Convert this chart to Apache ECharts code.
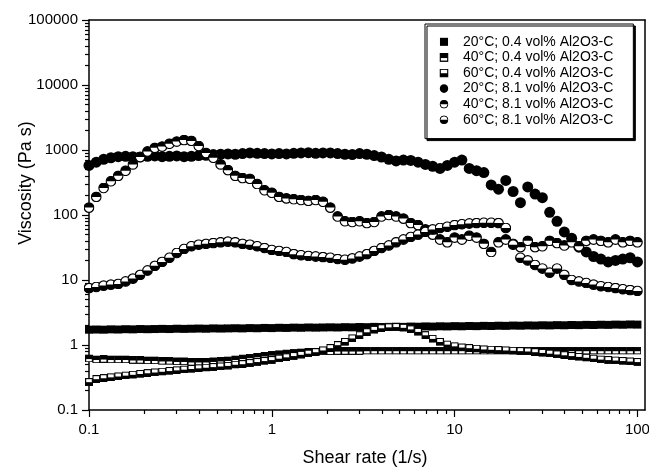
<!DOCTYPE html>
<html><head><meta charset="utf-8">
<script src="https://cdn.jsdelivr.net/npm/echarts@6/dist/echarts.min.js"></script>
<style>html,body{margin:0;padding:0;background:#fff}#c{width:649px;height:473px}</style>
</head><body><div id="c"></div>
<script>
// ---- data ----
const shearRate = [0.1,0.1096,0.1202,0.1318,0.1445,0.1585,0.1738,0.1905,0.2089,0.2291,0.2512,0.2754,0.302,0.3311,0.3631,0.3981,0.4365,0.4786,0.5248,0.5754,0.631,0.6918,0.7586,0.8318,0.912,1,1.096,1.202,1.318,1.445,1.585,1.738,1.905,2.089,2.291,2.512,2.754,3.02,3.311,3.631,3.981,4.365,4.786,5.248,5.754,6.31,6.918,7.586,8.318,9.12,10,10.96,12.02,13.18,14.45,15.85,17.38,19.05,20.89,22.91,25.12,27.54,30.2,33.11,36.31,39.81,43.65,47.86,52.48,57.54,63.1,69.18,75.86,83.18,91.2,100];

const visc20C_04 = [1.72,1.73,1.72,1.74,1.73,1.75,1.74,1.76,1.75,1.76,1.77,1.76,1.78,1.77,1.78,1.79,1.78,1.8,1.79,1.8,1.81,1.8,1.82,1.81,1.83,1.82,1.84,1.83,1.85,1.84,1.86,1.85,1.86,1.87,1.86,1.88,1.87,1.89,1.88,1.9,1.89,1.9,1.91,1.9,1.92,1.91,1.93,1.92,1.94,1.93,1.95,1.94,1.96,1.95,1.97,1.96,1.98,1.97,1.99,1.98,2,1.99,2.01,2,2.02,2.01,2.03,2.02,2.04,2.03,2.05,2.04,2.06,2.05,2.07,2.06];
const visc40C_04 = [0.62,0.6,0.61,0.6,0.6,0.6,0.59,0.59,0.58,0.58,0.57,0.57,0.56,0.56,0.55,0.55,0.55,0.56,0.57,0.58,0.6,0.62,0.64,0.66,0.68,0.7,0.72,0.74,0.75,0.77,0.78,0.79,0.8,0.8,0.81,0.81,0.81,0.81,0.82,0.82,0.82,0.82,0.82,0.82,0.82,0.82,0.82,0.82,0.82,0.82,0.82,0.82,0.82,0.82,0.82,0.82,0.82,0.82,0.82,0.82,0.82,0.82,0.82,0.82,0.82,0.82,0.82,0.82,0.82,0.82,0.82,0.82,0.82,0.82,0.82,0.82];
const visc60C_04 = [0.27,0.3,0.31,0.32,0.33,0.34,0.35,0.36,0.37,0.38,0.39,0.4,0.41,0.42,0.43,0.44,0.45,0.46,0.47,0.48,0.5,0.51,0.53,0.55,0.57,0.59,0.62,0.65,0.68,0.71,0.74,0.78,0.83,0.9,1,1.12,1.27,1.42,1.58,1.72,1.82,1.88,1.9,1.85,1.75,1.6,1.42,1.25,1.12,1.02,0.96,0.92,0.9,0.88,0.86,0.85,0.84,0.83,0.82,0.81,0.8,0.78,0.76,0.74,0.72,0.7,0.68,0.66,0.64,0.62,0.6,0.59,0.58,0.57,0.56,0.55];
const visc20C_81 = [580,650,720,760,790,800,790,780,800,810,790,800,810,790,800,820,830,850,860,870,860,880,900,890,880,870,880,870,890,900,910,890,900,900,880,860,850,880,860,820,780,720,680,700,690,650,600,560,520,580,650,700,520,480,450,290,250,340,230,155,270,210,185,110,80,55,44,32,27,23,21,19,20,21,22,19];
const visc40C_81 = [130,190,260,330,400,480,600,780,950,1080,1130,1250,1350,1420,1380,1150,900,760,600,490,400,370,360,300,240,220,190,180,175,170,165,170,160,130,95,80,78,80,75,78,95,100,95,88,75,70,60,50,42,38,45,42,48,45,36,27,38,42,36,32,40,32,33,40,37,34,38,33,40,42,40,38,42,38,40,38];
const visc60C_81 = [7.5,7.8,8.2,8.5,8.7,9.5,10.5,12,14,16.5,19,22,26,30,33,35,36,37,38,39,38,36,35,33,31,29,28,27,25,24,23.5,23,22.5,22,21,20.5,21.5,23,25,28,31,34,38,42,46,50,55,60,63,66,70,72,74,75,76,76,75,63,35,22,20,17,15,13,15,12,10,9.5,9,8.5,8,7.8,7.5,7.2,7,6.8];

const seriesNames = ['20°C; 0.4 vol% Al2O3-C','40°C; 0.4 vol% Al2O3-C','60°C; 0.4 vol% Al2O3-C','20°C; 8.1 vol% Al2O3-C','40°C; 8.1 vol% Al2O3-C','60°C; 8.1 vol% Al2O3-C'];
const xMajorTicks = [0.1,1,10,100];
const xMinorTicks = [0.2,0.3,0.4,0.5,0.6,0.7,0.8,0.9,2,3,4,5,6,7,8,9,20,30,40,50,60,70,80,90];
const yMajorTicks = [0.1,1,10,100,1000,10000,100000];
const yMinorTicks = [0.2,0.3,0.4,0.5,0.6,0.7,0.8,0.9,2,3,4,5,6,7,8,9,20,30,40,50,60,70,80,90,200,300,400,500,600,700,800,900,2000,3000,4000,5000,6000,7000,8000,9000,20000,30000,40000,50000,60000,70000,80000,90000];

// ---- marker images ----
function svgIcon(inner){
  return 'image://data:image/svg+xml;charset=utf-8,' + encodeURIComponent("<svg xmlns='http://www.w3.org/2000/svg' width='20' height='20' viewBox='0 0 20 20'>" + inner + "</svg>");
}
const icons = [
  svgIcon("<rect x='1' y='1' width='18' height='18' fill='black'/>"),
  svgIcon("<rect x='1.5' y='1.5' width='17' height='17' fill='white' stroke='black' stroke-width='3'/><rect x='1.5' y='1.5' width='17' height='10' fill='black'/>"),
  svgIcon("<rect x='1.5' y='1.5' width='17' height='17' fill='white' stroke='black' stroke-width='3'/><rect x='1.5' y='10.5' width='17' height='8' fill='black'/>"),
  svgIcon("<circle cx='10' cy='10' r='9.5' fill='black'/>"),
  svgIcon("<circle cx='10' cy='10' r='8.7' fill='white' stroke='black' stroke-width='2.2'/><path d='M1.3,10 A8.7,8.7 0 0 1 18.7,10 Z' fill='black'/>"),
  svgIcon("<circle cx='10' cy='10' r='8.7' fill='white' stroke='black' stroke-width='2.2'/><path d='M1.3,10 A8.7,8.7 0 0 0 18.7,10 Z' fill='black'/>")
];
const plotSymbols = ['rect', icons[1], icons[2], 'circle', icons[4], icons[5]];
const values = [visc20C_04, visc40C_04, visc60C_04, visc20C_81, visc40C_81, visc60C_81];
const sizes = [8,8,8,11,11,11];

const FONT = '"Liberation Sans", Arial, sans-serif';
const fmt = v => String(+(+v).toPrecision(6));

const chart = echarts.init(document.getElementById('c'), null, {renderer:'canvas'});
const series = values.map((vals, k) => ({
  type: 'scatter', name: seriesNames[k], xAxisIndex: 0, yAxisIndex: 0,
  symbol: plotSymbols[k], symbolSize: sizes[k],
  itemStyle: {color:'#000', opacity:1},
  data: shearRate.map((x, i) => [x, vals[i]]),
  emphasis: {disabled: true}, z: 2
}));

const axisLine = {show:true, lineStyle:{color:'#000', width:1.5}};
chart.setOption({
  animation: false,
  backgroundColor: '#fff',
  grid: {left: 89, top: 20, right: 4, bottom: 63, containLabel: false, outerBoundsMode: 'none'},
  xAxis: [
    {type:'log', logBase:10, min:0.1, max:110, position:'bottom', axisLine,
     axisTick:{show:true, inside:false, length:7, customValues:xMajorTicks, lineStyle:{color:'#000', width:1.2}},
     axisLabel:{show:true, customValues:xMajorTicks, formatter:fmt, margin:12, fontSize:15, fontFamily:FONT, color:'#000'},
     splitLine:{show:false}, minorTick:{show:false}},
    {type:'log', logBase:10, min:0.1, max:110, position:'bottom', axisLine:{show:false},
     axisTick:{show:true, inside:false, length:4, customValues:xMinorTicks, lineStyle:{color:'#000', width:1.2}},
     axisLabel:{show:false}, splitLine:{show:false}},
    {type:'log', logBase:10, min:0.1, max:110, position:'top', axisLine,
     axisTick:{show:false}, axisLabel:{show:false}, splitLine:{show:false}}
  ],
  yAxis: [
    {type:'log', logBase:10, min:0.1, max:100000, position:'left', axisLine,
     axisTick:{show:true, inside:false, length:7, customValues:yMajorTicks, lineStyle:{color:'#000', width:1.2}},
     axisLabel:{show:true, customValues:yMajorTicks, formatter:fmt, margin:11, fontSize:15, fontFamily:FONT, color:'#000'},
     splitLine:{show:false}},
    {type:'log', logBase:10, min:0.1, max:100000, position:'left', axisLine:{show:false},
     axisTick:{show:true, inside:false, length:4, customValues:yMinorTicks, lineStyle:{color:'#000', width:1.2}},
     axisLabel:{show:false}, splitLine:{show:false}},
    {type:'log', logBase:10, min:0.1, max:100000, position:'right', axisLine,
     axisTick:{show:false}, axisLabel:{show:false}, splitLine:{show:false}}
  ],
  legend: {
    orient:'vertical', left:425, top:24, selectedMode:false,
    data: seriesNames.map((n,k)=>({name:n, icon:icons[k]})),
    itemWidth:28, itemHeight:9, itemGap:0, symbolKeepAspect:true,
    padding:[10,20,11,5],
    backgroundColor:'#fff', borderColor:'#000', borderWidth:1,
    shadowColor:'#000', shadowBlur:0, shadowOffsetX:2, shadowOffsetY:2,
    textStyle:{fontSize:14, fontFamily:FONT, color:'#000', lineHeight:15.6},
    z: 10
  },
  graphic: [
    {type:'text', x:365, y:458, z:10, style:{text:'Shear rate (1/s)', font:'18px ' + FONT, fill:'#000', textAlign:'center', textVerticalAlign:'middle', align:'center', verticalAlign:'middle'}},
    {type:'text', x:26, y:183, rotation:Math.PI/2, z:10, style:{text:'Viscosity (Pa s)', font:'18px ' + FONT, fill:'#000', textAlign:'center', textVerticalAlign:'middle', align:'center', verticalAlign:'middle'}}
  ],
  series
});
</script>
</body></html>
